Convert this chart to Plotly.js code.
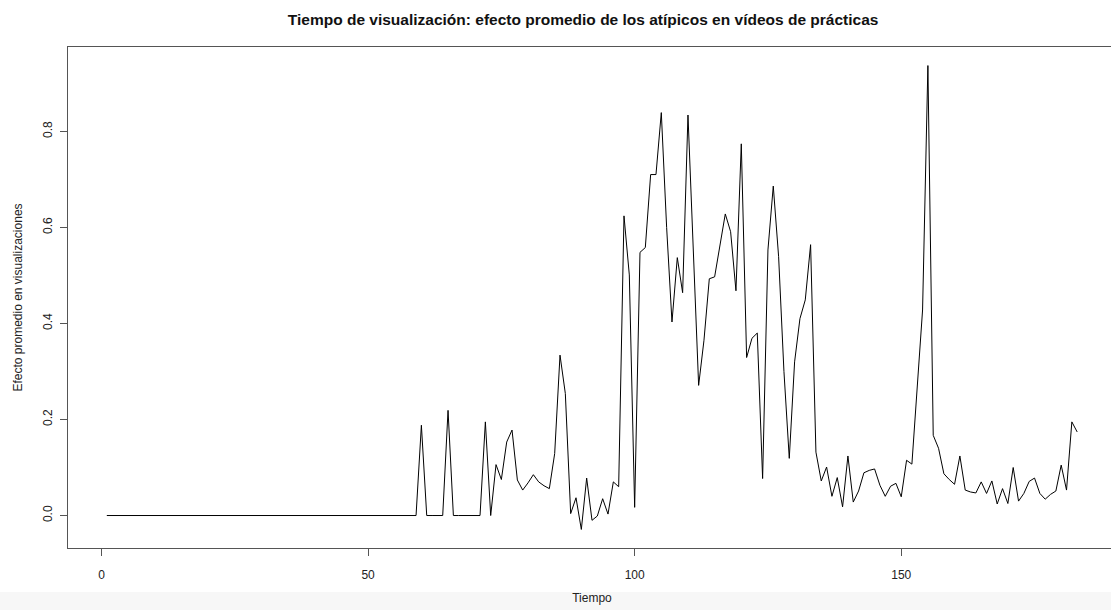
<!DOCTYPE html>
<html>
<head>
<meta charset="utf-8">
<script src="https://cdn.plot.ly/plotly-3.0.1.min.js"></script>
<style>
html,body{margin:0;padding:0;overflow:hidden;background:#fff;}
#chart{width:1120px;height:610px;}
</style>
</head>
<body>
<div id="chart"></div>
<script>
// Time index starts at 1 with step 1 (Plotly x0/dx)
const tiempoInicio = 1;
const tiempoPaso = 1;

// Efecto promedio en visualizaciones (t = 1 .. 183)
const efecto = [
  0,0,0,0,0,0,0,0,0,0, 0,0,0,0,0,0,0,0,0,0,
  0,0,0,0,0,0,0,0,0,0, 0,0,0,0,0,0,0,0,0,0,
  0,0,0,0,0,0,0,0,0,0, 0,0,0,0,0,0,0,0,0,
  0.188, 0, 0, 0, 0, 0.219, 0, 0, 0, 0,
  0, 0, 0.195, 0.0, 0.106, 0.075, 0.153, 0.178, 0.074, 0.053,
  0.068, 0.085, 0.070, 0.062, 0.056, 0.129, 0.334, 0.254, 0.004, 0.037,
  -0.029, 0.078, -0.010, -0.001, 0.035, 0.003, 0.070, 0.060, 0.624, 0.501,
  0.017, 0.548, 0.558, 0.710, 0.710, 0.839, 0.600, 0.403, 0.537, 0.464,
  0.834, 0.560, 0.271, 0.365, 0.493, 0.497, 0.560, 0.628, 0.591, 0.468,
  0.774, 0.329, 0.369, 0.380, 0.077, 0.553, 0.686, 0.539, 0.300, 0.119,
  0.320, 0.410, 0.449, 0.564, 0.132, 0.072, 0.101, 0.040, 0.079, 0.018,
  0.124, 0.028, 0.051, 0.089, 0.094, 0.097, 0.063, 0.040, 0.061, 0.067,
  0.039, 0.115, 0.107, 0.278, 0.428, 0.937, 0.167, 0.140, 0.087, 0.075,
  0.065, 0.124, 0.053, 0.049, 0.047, 0.070, 0.046, 0.072, 0.024, 0.056,
  0.025, 0.100, 0.030, 0.046, 0.071, 0.078, 0.046, 0.034, 0.044, 0.051,
  0.105, 0.053, 0.195, 0.174
];

const xTicks = [0, 50, 100, 150];
const yTicks = [0.0, 0.2, 0.4, 0.6, 0.8];
const yTickLabels = ["0.0", "0.2", "0.4", "0.6", "0.8"];

const tituloGrafico = "Tiempo de visualización: efecto promedio de los atípicos en vídeos de prácticas";
const tituloX = "Tiempo";
const tituloY = "Efecto promedio en visualizaciones";

// R-style axis limits (4% padding)
const n = efecto.length;
const xmin = tiempoInicio, xmax = tiempoInicio + (n - 1) * tiempoPaso;
const ymin = Math.min(...efecto), ymax = Math.max(...efecto);
const xpad = 0.04 * (xmax - xmin), ypad = 0.04 * (ymax - ymin);

const trace = {
  type: 'scatter',
  mode: 'lines',
  y: efecto,
  x0: tiempoInicio,
  dx: tiempoPaso,
  line: {color: '#000000', width: 1},
  hoverinfo: 'x+y'
};

const fontFam = '"Liberation Sans", Arial, Helvetica, sans-serif';

const layout = {
  width: 1120,
  height: 610,
  margin: {l: 68, r: 4, t: 47, b: 62},
  paper_bgcolor: '#ffffff',
  plot_bgcolor: '#ffffff',
  showlegend: false,
  font: {family: fontFam, size: 12, color: '#222'},
  title: {
    text: '<b>' + tituloGrafico + '</b>',
    font: {family: fontFam, size: 15.5, color: '#111'},
    x: 0.4915, xref: 'paper', xanchor: 'center',
    y: 1, yref: 'container', yanchor: 'top', pad: {t: 14}
  },
  xaxis: {
    range: [xmin - xpad, xmax + xpad],
    tickmode: 'array', tickvals: xTicks, ticktext: xTicks.map(String),
    ticks: 'outside', ticklen: 7, tickwidth: 1, tickcolor: '#555',
    showline: true, linecolor: '#555', linewidth: 1, mirror: true,
    showgrid: false, zeroline: false,
    ticklabelstandoff: 9,
    tickfont: {family: fontFam, size: 12, color: '#222'},
    title: {text: tituloX, font: {family: fontFam, size: 12, color: '#222'}, standoff: 12}
  },
  yaxis: {
    range: [ymin - ypad, ymax + ypad],
    tickmode: 'array', tickvals: yTicks, ticktext: yTickLabels,
    tickangle: -90,
    ticks: 'outside', ticklen: 7, tickwidth: 1, tickcolor: '#555',
    showline: true, linecolor: '#555', linewidth: 1, mirror: true,
    showgrid: false, zeroline: false,
    ticklabelstandoff: 3,
    tickfont: {family: fontFam, size: 12, color: '#222'},
    title: {text: tituloY, font: {family: fontFam, size: 12, color: '#222'}, standoff: 16}
  },
  shapes: [{
    type: 'rect', xref: 'paper', yref: 'paper',
    x0: -0.1, x1: 1.1, y0: -0.088, y1: -0.13,
    fillcolor: '#f7f7f7', line: {width: 0}, layer: 'below'
  }]
};

Plotly.newPlot('chart', [trace], layout, {displayModeBar: false, staticPlot: true});
</script>
</body>
</html>
